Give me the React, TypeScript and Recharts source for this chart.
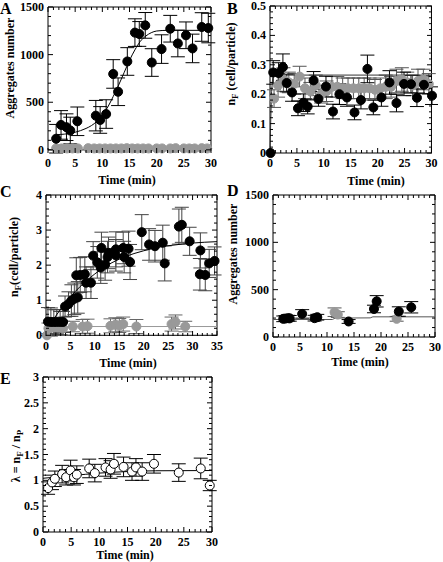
import React from "react";
import { ComposedChart, Scatter, Line, XAxis, YAxis, ErrorBar, ReferenceArea } from "recharts";

// [time (min), value, error]
type Pt = [number, number, number];

const aBlack: Pt[] = [
  [1.5, 117, 150], [2.4, 262, 150], [3.4, 238, 140], [4.1, 203, 140], [5.4, 300, 150],
  [8.8, 359, 160], [9.6, 314, 140], [10.7, 376, 150], [12.0, 797, 150], [12.9, 610, 145],
  [14.6, 928, 145], [16.0, 1231, 145], [16.8, 1217, 130], [17.9, 1307, 135], [19.1, 917, 145],
  [20.9, 1058, 150], [22.5, 1272, 140], [23.9, 1117, 140], [25.4, 1203, 140], [26.6, 1065, 150],
  [28.3, 1290, 150], [29.5, 1279, 155],
];
const aGray: Pt[] = [
  [1.5, 15, 0], [2.5, 15, 0], [3.5, 15, 0], [4.5, 15, 0], [5.5, 15, 0], [7.4, 18, 0],
  [8.5, 15, 0], [9.5, 15, 0], [10.5, 15, 0], [11.5, 15, 0], [12.5, 15, 0], [13.5, 15, 0],
  [14.5, 18, 0], [15.5, 15, 0], [16.5, 15, 0], [17.5, 15, 0], [18.5, 15, 0], [20, 15, 0],
  [21, 15, 0], [22.5, 15, 0], [23.5, 18, 0], [25, 15, 0], [26, 15, 0], [27, 15, 0],
  [28.3, 18, 0], [29.3, 15, 0],
];
const aFit: [number, number][] = [
  [1.5, 160], [3, 165], [5, 185], [7, 225], [8, 255], [9, 300], [10, 370], [11, 450],
  [12, 560], [13, 680], [14, 810], [15, 940], [16, 1050], [17, 1140], [18, 1195],
  [19, 1230], [20, 1248], [22, 1255], [30, 1255],
];

const bBlack: Pt[] = [
  [0.1, 0, 0], [0.6, 0.274, 0.04], [1.6, 0.272, 0.035], [2.4, 0.292, 0.045], [3.1, 0.238, 0.03],
  [4.1, 0.206, 0.03], [5.2, 0.152, 0.025], [6.2, 0.171, 0.03], [7.0, 0.158, 0.025],
  [8.1, 0.247, 0.03], [9.0, 0.184, 0.025], [10.4, 0.226, 0.035], [11.7, 0.141, 0.025],
  [12.9, 0.2, 0.035], [14.3, 0.189, 0.03], [15.7, 0.138, 0.025], [16.9, 0.18, 0.03],
  [18.1, 0.286, 0.047], [19.2, 0.155, 0.025], [20.7, 0.189, 0.03], [22.2, 0.24, 0.04],
  [23.5, 0.17, 0.03], [24.9, 0.235, 0.04], [26.2, 0.234, 0.03], [27.3, 0.188, 0.03],
  [28.6, 0.232, 0.03], [30.1, 0.195, 0.03],
];
const bGray: Pt[] = [
  [0.75, 0.185, 0.03], [1.5, 0.23, 0.04], [2.5, 0.25, 0.04], [3.5, 0.24, 0.035],
  [4.5, 0.235, 0.035], [5.5, 0.26, 0.035], [6.5, 0.22, 0.035], [7.5, 0.21, 0.03],
  [8.5, 0.23, 0.035], [9.5, 0.2, 0.03], [10.5, 0.21, 0.035], [11.5, 0.225, 0.035],
  [12.5, 0.225, 0.035], [13.5, 0.22, 0.035], [14.5, 0.22, 0.035], [15.5, 0.22, 0.035],
  [16.5, 0.22, 0.035], [17.5, 0.22, 0.035], [18.5, 0.22, 0.035], [19.5, 0.215, 0.035],
  [20.5, 0.22, 0.035], [21.5, 0.225, 0.04], [22.5, 0.225, 0.035], [23.5, 0.245, 0.04],
  [24.5, 0.25, 0.04], [25.5, 0.24, 0.035], [26.5, 0.23, 0.035], [27.5, 0.245, 0.04],
  [28.5, 0.25, 0.035], [29.5, 0.235, 0.035],
];
const bFit: [number, number][] = [[0, 0], [0.15, 0.12], [0.3, 0.21], [0.5, 0.255], [0.8, 0.265], [30, 0.265]];

const cBlack: Pt[] = [
  [0.4, 0.39, 0.4], [1.0, 0.38, 0.4], [1.6, 0.38, 0.35], [2.2, 0.38, 0.35], [2.9, 0.38, 0.3],
  [3.5, 0.38, 0.3], [3.9, 0.82, 0.3], [4.6, 0.89, 0.35], [5.2, 0.99, 0.45], [5.8, 1.04, 0.45],
  [6.5, 1.08, 0.45], [6.2, 1.71, 0.5], [7.0, 1.72, 0.5], [7.95, 1.74, 0.5], [8.2, 1.5, 0.45],
  [9.2, 1.5, 0.45], [9.65, 2.27, 0.4], [10.5, 2.08, 0.45], [11.2, 1.93, 0.45], [11.35, 2.49, 0.45],
  [12.1, 2.02, 0.45], [12.6, 2.23, 0.45], [12.8, 2.35, 0.45], [14.3, 2.45, 0.5], [14.3, 2.28, 0.45],
  [15.8, 2.49, 0.45], [16.0, 2.23, 0.45], [16.9, 2.47, 0.5], [17.2, 2.09, 0.5], [19.6, 2.94, 0.5],
  [21.1, 2.59, 0.45], [22.3, 2.54, 0.45], [23.9, 2.64, 0.5], [24.3, 2.05, 0.5], [27.2, 3.1, 0.5],
  [27.8, 3.15, 0.5], [29.4, 2.68, 0.4], [31.5, 1.74, 0.45], [31.6, 2.42, 0.5], [32.6, 1.72, 0.45],
  [33.4, 2.05, 0.4], [34.5, 2.12, 0.4],
];
const cGray: Pt[] = [
  [0.2, 0, 0], [0.5, 0.2, 0.15], [1, 0.25, 0.2], [1.5, 0.22, 0.2], [2, 0.24, 0.2], [2.5, 0.22, 0.2],
  [3, 0.22, 0.2], [3.5, 0.2, 0.2], [5.5, 0.25, 0.15], [7.5, 0.25, 0.2], [8.5, 0.26, 0.2],
  [13.2, 0.27, 0.2], [14.2, 0.3, 0.2], [15, 0.28, 0.2], [15.8, 0.32, 0.2], [18.5, 0.25, 0.2],
  [25.7, 0.32, 0.2], [26.5, 0.38, 0.2], [28.5, 0.25, 0.15],
];
const cFitBlack: [number, number][] = [
  [0.5, 0.25], [2, 0.55], [4, 0.93], [6, 1.25], [8, 1.52], [10, 1.75], [12, 1.95], [15, 2.17],
  [18, 2.33], [20, 2.41], [23, 2.51], [26, 2.57], [30, 2.63], [35, 2.67],
];
const cFitGray: [number, number][] = [[0, 0], [0.5, 0.25], [35, 0.25]];

const dBlack: Pt[] = [
  [1.9, 192, 30], [2.3, 195, 30], [2.8, 199, 30], [3.1, 197, 30], [5.4, 244, 45], [7.7, 199, 30],
  [8.2, 209, 30], [14.0, 164, 20], [18.7, 296, 40], [19.2, 377, 60], [23.3, 269, 50], [25.6, 314, 60],
];
const dGray: Pt[] = [[11.4, 262, 45], [12.0, 237, 30], [22.9, 192, 25]];
const dFit: [number, number][] = [[0, 185], [11, 185], [11.5, 200], [18, 202], [18.5, 213], [30, 213]];

const eOpen: Pt[] = [
  [0.9, 0.85, 0.12], [1.6, 0.96, 0.14], [2.1, 1.03, 0.15], [3.4, 1.12, 0.17], [4.1, 1.06, 0.15],
  [4.9, 1.19, 0.2], [5.5, 1.06, 0.15], [6.0, 1.11, 0.17], [8.2, 1.23, 0.18], [9.2, 1.14, 0.17],
  [11.1, 1.25, 0.17], [12.0, 1.21, 0.17], [12.6, 1.32, 0.2], [14.3, 1.26, 0.19], [15.8, 1.17, 0.17],
  [16.5, 1.25, 0.17], [17.6, 1.17, 0.17], [19.7, 1.32, 0.18], [24.1, 1.15, 0.17], [28.0, 1.23, 0.2],
  [29.6, 0.9, 0.1],
];
const eFit: [number, number][] = [[0, 1.04], [2, 1.06], [5, 1.09], [10, 1.14], [15, 1.17], [20, 1.185], [30, 1.19]];

const xTicks30 = [0, 5, 10, 15, 20, 25, 30];
const xTicks35 = [0, 5, 10, 15, 20, 25, 30, 35];
const yTicksAgg = [0, 500, 1000, 1500];
const yTicksB = [0, 0.1, 0.2, 0.3, 0.4, 0.5];
const yTicksC = [0, 1, 2, 3, 4];
const yTicksE = [0, 0.5, 1, 1.5, 2, 2.5, 3];

const FONT = "'Liberation Serif', 'Times New Roman', serif";
const GRAY = "#999999";

const rows = (pts: Pt[]) => pts.map(([x, y, e]) => ({ x, y, e }));
const fitRows = (pts: [number, number][]) => pts.map(([x, y]) => ({ x, y }));
const minor = (lo: number, hi: number, step: number) => {
  const out: number[] = [];
  for (let k = 0; lo + k * step <= hi + 1e-9; k++) out.push(Math.round((lo + k * step) * 1000) / 1000);
  return out;
};

const YW = 50;
const MT = 10;
const MR = 6;
const XH = 24;

interface PanelProps {
  left: number;
  top: number;
  w: number;
  h: number;
  xDomain: [number, number];
  xMajor: number[];
  xStep: number;
  yDomain: [number, number];
  yMajor: number[];
  yStep: number;
  children: React.ReactNode;
}

const isMajor = (list: number[], v: number) => list.some((m) => Math.abs(m - v) < 1e-6);

function Panel({ left, top, w, h, xDomain, xMajor, xStep, yDomain, yMajor, yStep, children }: PanelProps) {
  const xt = minor(xDomain[0], xDomain[1], xStep);
  const yt = minor(yDomain[0], yDomain[1], yStep);

  const XTick = (p: any) => {
    const v = p.payload.value;
    const big = isMajor(xMajor, v);
    const len = big ? 5 : 3;
    return (
      <g>
        <line x1={p.x} y1={p.y} x2={p.x} y2={p.y - len} stroke="#000" />
        <line x1={p.x} y1={p.y - h} x2={p.x} y2={p.y - h + len} stroke="#000" />
        {big && (
          <text x={p.x} y={p.y + 10} textAnchor="middle" dominantBaseline="central"
            fontFamily={FONT} fontWeight="bold" fontSize={12} fill="#000">
            {v}
          </text>
        )}
      </g>
    );
  };

  const YTick = (p: any) => {
    const v = p.payload.value;
    const big = isMajor(yMajor, v);
    const len = big ? 5 : 3;
    return (
      <g>
        <line x1={p.x} y1={p.y} x2={p.x + len} y2={p.y} stroke="#000" />
        <line x1={p.x + w} y1={p.y} x2={p.x + w - len} y2={p.y} stroke="#000" />
        {big && (
          <text x={p.x - 4} y={p.y} textAnchor="end" dominantBaseline="central"
            fontFamily={FONT} fontWeight="bold" fontSize={12} fill="#000">
            {v}
          </text>
        )}
      </g>
    );
  };

  return (
    <div style={{ position: "absolute", left: left - YW, top: top - MT }}>
      <ComposedChart width={YW + w + MR} height={MT + h + XH} margin={{ top: MT, right: MR, left: 0, bottom: 0 }}>
        <XAxis dataKey="x" type="number" domain={xDomain} ticks={xt} interval={0} height={XH}
          axisLine={false} tickLine={false} tickSize={0} tickMargin={0} tick={XTick} />
        <YAxis dataKey="y" type="number" domain={yDomain} ticks={yt} interval={0} width={YW}
          axisLine={false} tickLine={false} tickSize={0} tickMargin={0} tick={YTick} />
        <ReferenceArea x1={xDomain[0]} x2={xDomain[1]} y1={yDomain[0]} y2={yDomain[1]}
          fill="none" stroke="#000" strokeWidth={1} ifOverflow="visible" />
        {children}
      </ComposedChart>
    </div>
  );
}

const dotSeries = (pts: Pt[], fill: string, stroke: string, errColor: string, withErr = true) => (
  <Scatter data={rows(pts)} dataKey="y" fill={fill} stroke={stroke} strokeWidth={1} isAnimationActive={false}>
    {withErr && <ErrorBar dataKey="e" direction="y" width={7} stroke={errColor} strokeWidth={1} />}
  </Scatter>
);

const fitLine = (pts: [number, number][], color: string, curve: "monotone" | "linear") => (
  <Line data={fitRows(pts)} dataKey="y" type={curve} stroke={color} strokeWidth={1}
    dot={false} activeDot={false} isAnimationActive={false} />
);

const txt = { fontFamily: FONT, fontWeight: "bold" as const, fontSize: 12, fill: "#000" };

export default function App() {
  return (
    <div style={{ position: "absolute", left: 0, top: 0, width: 443, height: 562, background: "#fff", overflow: "hidden" }}>
      <Panel left={48} top={7} w={163} h={146} xDomain={[0, 30]} xMajor={xTicks30} xStep={1}
        yDomain={[0, 1500]} yMajor={yTicksAgg} yStep={100}>
        {fitLine(aFit, "#000", "monotone")}
        {dotSeries(aGray, GRAY, GRAY, GRAY, false)}
        {dotSeries(aBlack, "#000", "#000", "#000")}
      </Panel>

      <Panel left={270} top={6} w={162} h={147} xDomain={[0, 30]} xMajor={xTicks30} xStep={1}
        yDomain={[0, 0.5]} yMajor={yTicksB} yStep={0.02}>
        {dotSeries(bGray, GRAY, GRAY, "#555")}
        {dotSeries(bBlack, "#000", "#000", "#000")}
        {fitLine(bFit, "#333", "linear")}
      </Panel>

      <Panel left={46} top={195} w={171} h={141} xDomain={[0, 35]} xMajor={xTicks35} xStep={1}
        yDomain={[0, 4]} yMajor={yTicksC} yStep={0.2}>
        {dotSeries(cGray, GRAY, GRAY, "#666")}
        {dotSeries(cBlack, "#000", "#000", "#444")}
        {fitLine(cFitGray, GRAY, "linear")}
        {fitLine(cFitBlack, "#000", "monotone")}
      </Panel>

      <Panel left={273} top={195} w={162} h={142} xDomain={[0, 30]} xMajor={xTicks30} xStep={1}
        yDomain={[0, 1500]} yMajor={yTicksAgg} yStep={100}>
        {fitLine(dFit, "#555", "linear")}
        {dotSeries(dGray, GRAY, GRAY, "#555")}
        {dotSeries(dBlack, "#000", "#000", "#000")}
      </Panel>

      <Panel left={43} top={377} w={169} h={155} xDomain={[0, 30]} xMajor={xTicks30} xStep={1}
        yDomain={[0, 3]} yMajor={yTicksE} yStep={0.1}>
        {fitLine(eFit, "#000", "monotone")}
        {dotSeries(eOpen, "#fff", "#000", "#000")}
      </Panel>

      <svg width={443} height={562} style={{ position: "absolute", left: 0, top: 0, pointerEvents: "none" }}>
        <g fontFamily={FONT} fontWeight="bold" fontSize={16} fill="#000">
          <text x={0} y={14}>A</text>
          <text x={227} y={14}>B</text>
          <text x={0} y={197}>C</text>
          <text x={227} y={196}>D</text>
          <text x={0} y={384}>E</text>
        </g>

        <text {...txt} x={127} y={180} textAnchor="middle" dominantBaseline="central">Time (min)</text>
        <text {...txt} x={376} y={181} textAnchor="middle" dominantBaseline="central">Time (min)</text>
        <text {...txt} x={128} y={363} textAnchor="middle" dominantBaseline="central">Time (min)</text>
        <text {...txt} x={360} y={362} textAnchor="middle" dominantBaseline="central">Time (min)</text>
        <text {...txt} x={125} y={555} textAnchor="middle" dominantBaseline="central">Time (min)</text>

        <text {...txt} transform="translate(10,68) rotate(-90)" textAnchor="middle" dominantBaseline="central">
          Aggregates number
        </text>
        <text {...txt} transform="translate(233,254) rotate(-90)" textAnchor="middle" dominantBaseline="central">
          Aggregates number
        </text>
        <text {...txt} transform="translate(231,64) rotate(-90)" textAnchor="middle" dominantBaseline="central">
          n<tspan fontSize={9} dy={4}>F</tspan><tspan dy={-4}> (cell/particle)</tspan>
        </text>
        <text {...txt} transform="translate(14,257) rotate(-90)" textAnchor="middle" dominantBaseline="central">
          n<tspan fontSize={9} dy={4}>F</tspan><tspan dy={-4}>(cell/particle)</tspan>
        </text>
        <text {...txt} transform="translate(16,456) rotate(-90)" textAnchor="middle" dominantBaseline="central">
          λ = n<tspan fontSize={9} dy={4}>F</tspan><tspan dy={-4}> / n</tspan><tspan fontSize={9} dy={4}>P</tspan>
        </text>
      </svg>
    </div>
  );
}
